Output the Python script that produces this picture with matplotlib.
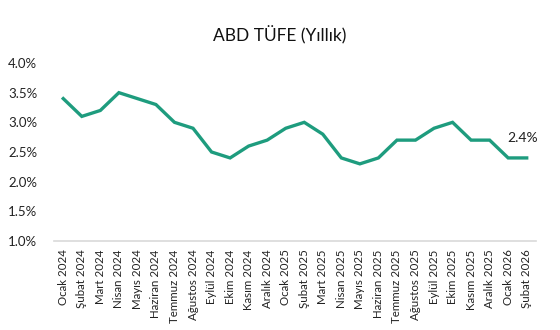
import matplotlib
matplotlib.use("Agg")
import matplotlib.pyplot as plt
from matplotlib.ticker import FuncFormatter

plt.rcParams['font.family'] = ['Lato', 'DejaVu Sans']

months = ["Ocak 2024", "Şubat 2024", "Mart 2024", "Nisan 2024", "Mayıs 2024",
          "Haziran 2024", "Temmuz 2024", "Ağustos 2024", "Eylül 2024", "Ekim 2024",
          "Kasım 2024", "Aralık 2024", "Ocak 2025", "Şubat 2025", "Mart 2025",
          "Nisan 2025", "Mayıs 2025", "Haziran 2025", "Temmuz 2025", "Ağustos 2025",
          "Eylül 2025", "Ekim 2025", "Kasım 2025", "Aralık 2025", "Ocak 2026",
          "Şubat 2026"]
cpi = [3.4, 3.1, 3.2, 3.5, 3.4, 3.3, 3.0, 2.9, 2.5, 2.4, 2.6, 2.7, 2.9,
       3.0, 2.8, 2.4, 2.3, 2.4, 2.7, 2.7, 2.9, 3.0, 2.7, 2.7, 2.4, 2.4]
y_ticks = [1.0, 1.5, 2.0, 2.5, 3.0, 3.5, 4.0]

fig = plt.figure(figsize=(5.6, 3.3), dpi=100)
ax = fig.add_axes([0.0964, 0.2697, 0.8607, 0.5394])

x = range(len(months))
ax.plot(x, cpi, color="#1E9C7E", lw=2.4, solid_joinstyle="miter")
ax.set_xlim(-0.5, len(months) - 0.5)
ax.set_ylim(y_ticks[0], y_ticks[-1])
ax.set_yticks(y_ticks)
ax.yaxis.set_major_formatter(FuncFormatter(lambda v, _: f"{v:.1f}%"))
ax.set_xticks(list(x))
ax.set_xticklabels(months, rotation=90, fontsize=8.3, color="#222222")
ax.tick_params(axis="y", labelsize=9.5, colors="#222222", length=0, pad=12)
ax.tick_params(axis="x", length=0, pad=6)

for s in ["top", "right", "left"]:
    ax.spines[s].set_visible(False)
ax.spines["bottom"].set_color("#d9d9d9")
ax.spines["bottom"].set_linewidth(1.2)

ax.annotate(f"{cpi[-1]:.1f}%", (x[-1], cpi[-1]), xytext=(-3, 10),
            textcoords="offset points", fontsize=10, color="#222222",
            ha="center", va="bottom")

fig.text(0.5, 0.893, "ABD TÜFE (Yıllık)", ha="center", va="center",
         fontsize=12.5, color="#111111")

fig.savefig("out.png", dpi=100)
